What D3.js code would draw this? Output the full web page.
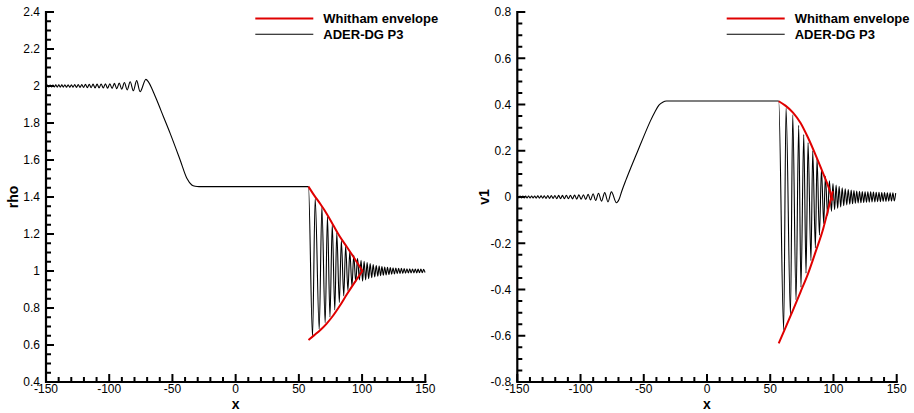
<!DOCTYPE html>
<html>
<head>
<meta charset="utf-8">
<script src="https://cdn.jsdelivr.net/npm/d3@7"></script>
<style>
  body { margin: 0; background: #fff; }
  svg { display: block; font-family: "Liberation Sans", Arial, Helvetica, sans-serif; }
</style>
</head>
<body>
<svg id="chart" width="914" height="413"></svg>
<script>
// x positions of the small wiggles left of the rarefaction (both panels)
const waveX = [-150.0, -148.9, -147.8, -146.7, -145.6, -144.5, -143.4, -142.3, -141.1, -139.9,
  -138.7, -137.5, -136.3, -135.1, -133.8, -132.5, -131.2, -129.9, -128.6, -127.3,
  -125.9, -124.5, -123.1, -121.7, -120.3, -118.8, -117.3, -115.8, -114.3, -112.8,
  -111.2, -109.6, -108.0, -106.4, -104.7, -103.0, -101.3, -99.5, -97.7, -95.9,
  -94.0, -92.1, -90.1, -88.0, -85.8, -83.4, -80.9, -78.3, -75.6];
const rhoWave = [1.995, 2.005, 1.995, 2.005, 1.995, 2.005, 1.995, 2.006, 1.994, 2.006,
  1.994, 2.006, 1.994, 2.007, 1.993, 2.007, 1.993, 2.007, 1.993, 2.008,
  1.992, 2.008, 1.992, 2.008, 1.992, 2.009, 1.991, 2.009, 1.991, 2.010,
  1.990, 2.010, 1.990, 2.011, 1.989, 2.012, 1.988, 2.012, 1.987, 2.014,
  1.985, 2.016, 1.983, 2.019, 1.979, 2.023, 1.974, 2.029, 1.969];
const v1Wave = [0.004, -0.004, 0.004, -0.004, 0.004, -0.004, 0.004, -0.0045, 0.0045, -0.0045,
  0.0045, -0.0045, 0.0045, -0.005, 0.005, -0.005, 0.005, -0.005, 0.005, -0.006,
  0.006, -0.006, 0.006, -0.006, 0.006, -0.007, 0.007, -0.007, 0.007, -0.0075,
  0.0075, -0.0075, 0.0075, -0.008, 0.008, -0.009, 0.009, -0.0095, 0.010, -0.011,
  0.012, -0.013, 0.014, -0.015, 0.016, -0.018, 0.019, -0.021, 0.022];

// rarefaction ramp + plateau
const rhoRampX = [-71.0, -69.0, -66.3, -62.4, -57.1, -51.8, -43.9, -38.6, -34.7, -32.0, -29.0, 57.6];
const rhoRamp = [2.036, 2.022, 1.987, 1.924, 1.834, 1.744, 1.600, 1.501, 1.465, 1.458, 1.456, 1.456];
const v1RampX = [-71.6, -69.5, -67.4, -64.0, -60.0, -55.0, -50.0, -45.0, -41.0, -38.0, -35.0, -32.0, 56.7];
const v1Ramp = [-0.025, -0.010, 0.025, 0.075, 0.130, 0.196, 0.262, 0.326, 0.370, 0.397, 0.410, 0.415, 0.415];

// dispersive shock wave extrema
const rhoDswX = [60.8, 62.9, 66.1, 68.2, 70.8, 72.6, 74.6, 76.4, 78.4, 80.0, 82.0,
  83.6, 85.5, 87.0, 88.8, 90.3, 92.0, 93.4, 95.0, 96.4, 97.9, 99.2];
const rhoDsw = [0.645, 1.393, 0.685, 1.345, 0.720, 1.295, 0.752, 1.250, 0.790, 1.205, 0.830,
  1.165, 0.865, 1.135, 0.895, 1.105, 0.920, 1.085, 0.940, 1.068, 0.952, 1.058];
const v1DswX = [60.6, 62.5, 66.0, 67.8, 70.4, 72.5, 74.3, 76.5, 78.3, 79.9, 82.2,
  83.6, 85.7, 87.0, 88.9, 90.5, 92.3, 93.6, 95.4, 96.8, 98.4, 99.6];
const v1Dsw = [-0.575, 0.385, -0.510, 0.355, -0.445, 0.310, -0.390, 0.270, -0.330, 0.235, -0.275,
  0.200, -0.220, 0.165, -0.165, 0.120, -0.115, 0.090, -0.080, 0.070, -0.062, 0.058];

// decaying tail
const rhoTailX = [100.4, 101.6, 102.8, 104.0, 105.2, 106.4, 107.6, 108.8, 110.0, 111.2,
  112.4, 113.5, 114.6, 115.7, 116.8, 117.9, 119.0, 120.1, 121.2, 122.3,
  123.4, 124.5, 125.6, 126.7, 127.8, 128.9, 130.0, 131.1, 132.2, 133.3,
  134.4, 135.5, 136.6, 137.7, 138.8, 139.9, 141.0, 142.1, 143.2, 144.3,
  145.4, 146.5, 147.6, 148.7, 149.8];
const rhoTail = [0.945, 1.053, 0.952, 1.046, 0.958, 1.040, 0.964, 1.035, 0.968, 1.030,
  0.972, 1.027, 0.975, 1.024, 0.977, 1.022, 0.979, 1.020, 0.981, 1.018,
  0.983, 1.017, 0.984, 1.016, 0.985, 1.015, 0.986, 1.014, 0.987, 1.013,
  0.988, 1.012, 0.989, 1.012, 0.989, 1.011, 0.990, 1.011, 0.990, 1.010,
  0.991, 1.010, 0.991, 1.009, 0.992];
const v1TailX = [100.9, 102.1, 103.3, 104.5, 105.7, 106.9, 108.1, 109.3, 110.5, 111.7,
  112.9, 114.0, 115.1, 116.2, 117.3, 118.4, 119.5, 120.6, 121.7, 122.8,
  123.9, 125.0, 126.1, 127.2, 128.3, 129.4, 130.5, 131.6, 132.7, 133.8,
  134.9, 136.0, 137.1, 138.2, 139.3, 140.4, 141.5, 142.6, 143.7, 144.8,
  145.9, 147.0, 148.1, 149.2];
const v1Tail = [-0.055, 0.052, -0.050, 0.046, -0.043, 0.040, -0.038, 0.036, -0.034, 0.032,
  -0.031, 0.030, -0.029, 0.028, -0.027, 0.026, -0.026, 0.025, -0.025, 0.024,
  -0.024, 0.023, -0.023, 0.022, -0.022, 0.022, -0.021, 0.021, -0.021, 0.020,
  -0.020, 0.020, -0.020, 0.019, -0.019, 0.019, -0.019, 0.018, -0.018, 0.018,
  -0.018, 0.018, -0.017, 0.017];

// Whitham envelopes
const rhoEnvX = [57.6, 62, 67, 72, 77, 82, 88, 94, 100.5];
const rhoEnvUpper = [1.456, 1.410, 1.362, 1.310, 1.250, 1.190, 1.130, 1.068, 0.998];
const rhoEnvLower = [0.627, 0.652, 0.681, 0.716, 0.758, 0.808, 0.874, 0.937, 1.003];
const v1EnvX = [56.7, 62, 68, 74, 80, 86, 92, 96, 99.5];
const v1EnvUpper = [0.414, 0.395, 0.365, 0.320, 0.255, 0.180, 0.100, 0.045, -0.015];
const v1EnvLower = [-0.633, -0.566, -0.489, -0.410, -0.330, -0.235, -0.135, -0.050, 0.025];

// ticks
const xTicks = [-150, -100, -50, 0, 50, 100, 150];
const xTickLabels = ['-150', '-100', '-50', '0', '50', '100', '150'];
const rhoTicks = [0.4, 0.6, 0.8, 1, 1.2, 1.4, 1.6, 1.8, 2, 2.2, 2.4];
const rhoTickLabels = ['0.4', '0.6', '0.8', '1', '1.2', '1.4', '1.6', '1.8', '2', '2.2', '2.4'];
const v1Ticks = [-0.8, -0.6, -0.4, -0.2, 0, 0.2, 0.4, 0.6, 0.8];
const v1TickLabels = ['-0.8', '-0.6', '-0.4', '-0.2', '0', '0.2', '0.4', '0.6', '0.8'];

const seriesNames = ['Whitham envelope', 'ADER-DG P3'];

const plotTop = 12;
const plotBottom = 382;

const svg = d3.select('#chart');

function drawPanel(p) {
  const x = d3.scaleLinear().domain([-150, 150]).range([p.left, p.right]);
  const y = d3.scaleLinear().domain(p.yDomain).range([plotBottom, plotTop]);

  const xMinor = d3.range(-150, 151, 10);
  const yMinor = d3.range(0, 41).map(i => Math.round((p.yDomain[0] + i * 0.05) * 100) / 100)
      .filter(v => v <= p.yDomain[1] + 1e-9);

  const g = svg.append('g');

  // inward ticks
  const tickPath = d3.path();
  xMinor.forEach(v => {
    const len = xTicks.includes(v) ? 8 : 5;
    tickPath.moveTo(x(v), plotBottom);
    tickPath.lineTo(x(v), plotBottom - len);
  });
  yMinor.forEach(v => {
    const len = p.yTicks.some(t => Math.abs(t - v) < 1e-6) ? 8 : 5;
    tickPath.moveTo(p.left, y(v));
    tickPath.lineTo(p.left + len, y(v));
  });
  g.append('path')
      .attr('d', tickPath.toString())
      .attr('fill', 'none')
      .attr('stroke', '#000')
      .attr('stroke-width', 2);

  // axis lines
  g.append('path')
      .attr('d', `M${p.left},${plotTop}V${plotBottom}H${p.right}`)
      .attr('fill', 'none')
      .attr('stroke', '#000')
      .attr('stroke-width', 2.2)
      .attr('stroke-linecap', 'square');

  // tick labels
  g.append('g')
      .attr('font-size', 12)
      .attr('text-anchor', 'middle')
    .selectAll('text')
      .data(xTicks)
    .join('text')
      .attr('x', d => x(d))
      .attr('y', plotBottom + 11)
      .text((d, i) => xTickLabels[i]);
  g.append('g')
      .attr('font-size', 12)
      .attr('text-anchor', 'end')
    .selectAll('text')
      .data(p.yTicks)
    .join('text')
      .attr('x', p.left - 6)
      .attr('y', d => y(d) + 4.3)
      .text((d, i) => p.yTickLabels[i]);

  // axis titles
  g.append('text')
      .attr('x', (p.left + p.right) / 2)
      .attr('y', 409)
      .attr('text-anchor', 'middle')
      .attr('font-weight', 'bold')
      .attr('font-size', 14)
      .text('x');
  g.append('text')
      .attr('transform', `translate(${p.left - 28},${(plotTop + plotBottom) / 2}) rotate(-90)`)
      .attr('text-anchor', 'middle')
      .attr('font-weight', 'bold')
      .attr('font-size', 14)
      .text(p.yTitle);

  const line = d3.line()
      .x(d => x(d[0]))
      .y(d => y(d[1]))
      .curve(d3.curveMonotoneX);

  // numerical solution
  g.append('path')
      .datum(p.series)
      .attr('fill', 'none')
      .attr('stroke', '#000')
      .attr('stroke-width', 1.1)
      .attr('d', line);

  // envelope
  [p.upper, p.lower].forEach(env => {
    g.append('path')
        .datum(env)
        .attr('fill', 'none')
        .attr('stroke', '#e00000')
        .attr('stroke-width', 2)
        .attr('d', line);
  });

  // legend
  const lx = p.right - 170;
  const legend = g.append('g').attr('font-weight', 'bold').attr('font-size', 13);
  [['#e00000', 2, 18.5], ['#000', 1.1, 34.3]].forEach((s, i) => {
    legend.append('line')
        .attr('x1', lx).attr('x2', lx + 58)
        .attr('y1', s[2]).attr('y2', s[2])
        .attr('stroke', s[0])
        .attr('stroke-width', s[1]);
    legend.append('text')
        .attr('x', lx + 68)
        .attr('y', s[2] + 4.5)
        .text(seriesNames[i]);
  });
}

drawPanel({
  left: 46, right: 425.3,
  yDomain: [0.4, 2.4], yTicks: rhoTicks, yTickLabels: rhoTickLabels, yTitle: 'rho',
  series: [].concat(d3.zip(waveX, rhoWave), d3.zip(rhoRampX, rhoRamp),
    d3.zip(rhoDswX, rhoDsw), d3.zip(rhoTailX, rhoTail)),
  upper: d3.zip(rhoEnvX, rhoEnvUpper),
  lower: d3.zip(rhoEnvX, rhoEnvLower)
});

drawPanel({
  left: 517.3, right: 896.7,
  yDomain: [-0.8, 0.8], yTicks: v1Ticks, yTickLabels: v1TickLabels, yTitle: 'v1',
  series: [].concat(d3.zip(waveX, v1Wave), d3.zip(v1RampX, v1Ramp),
    d3.zip(v1DswX, v1Dsw), d3.zip(v1TailX, v1Tail)),
  upper: d3.zip(v1EnvX, v1EnvUpper),
  lower: d3.zip(v1EnvX, v1EnvLower)
});
</script>
</body>
</html>
